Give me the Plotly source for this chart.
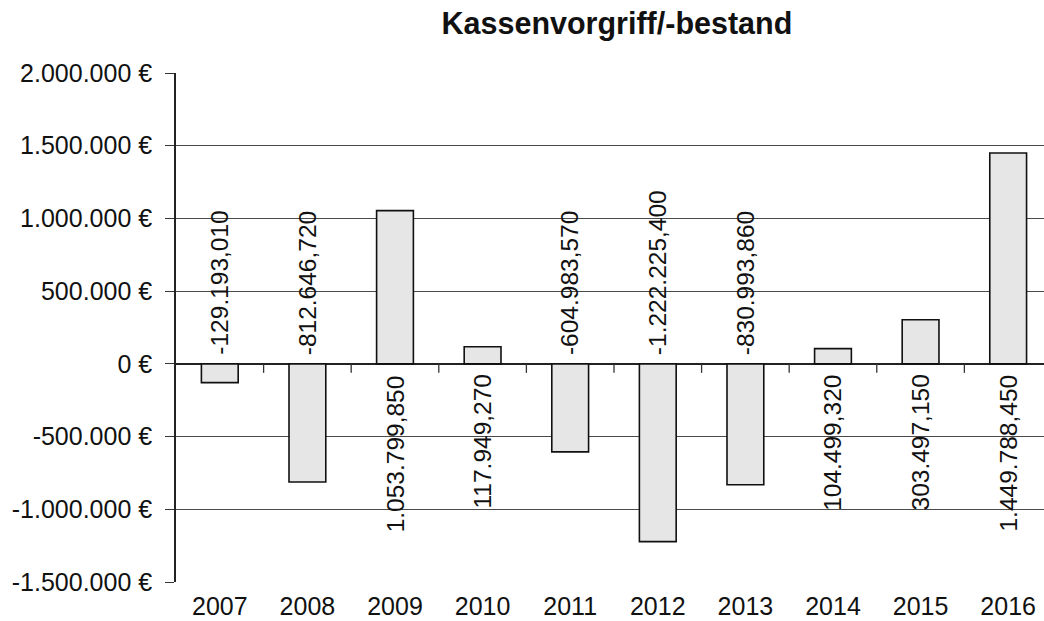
import plotly.graph_objects as go

years = [2007, 2008, 2009, 2010, 2011, 2012, 2013, 2014, 2015, 2016]
values = [-129193.01, -812646.72, 1053799.85, 117949.27, -604983.57,
          -1222225.40, -830993.86, 104499.32, 303497.15, 1449788.45]
ytick_vals = [2000000, 1500000, 1000000, 500000, 0, -500000, -1000000, -1500000]
ytick_text = ["2.000.000 €", "1.500.000 €", "1.000.000 €", "500.000 €", "0 €",
              "-500.000 €", "-1.000.000 €", "-1.500.000 €"]
title = "Kassenvorgriff/-bestand"


def de_fmt(v):
    s = f"{v:,.3f}"
    return s.replace(",", "X").replace(".", ",").replace("X", ".")


FONT = "Arial, Liberation Sans, sans-serif"

fig = go.Figure()
fig.add_trace(go.Bar(
    x=years, y=values,
    marker=dict(color="#e6e6e6", line=dict(color="#111111", width=1.6)),
    width=0.42, showlegend=False, hoverinfo="x+y",
))

annotations = []
for yr, v in zip(years, values):
    annotations.append(dict(
        x=yr, y=0, xref="x", yref="y",
        text=de_fmt(v), textangle=-90, showarrow=False,
        yanchor="bottom" if v < 0 else "top",
        yshift=7 if v < 0 else -9,
        font=dict(family=FONT, size=24.5, color="#111111"),
    ))

shapes = []
for i in range(len(years) - 1):
    xm = (years[i] + years[i + 1]) / 2
    shapes.append(dict(
        type="line", xref="x", yref="y", ysizemode="pixel", yanchor=0,
        x0=xm, x1=xm, y0=0, y1=-9,
        line=dict(color="#333333", width=1.3),
    ))

fig.update_layout(
    width=1044, height=621,
    margin=dict(l=176, r=0, t=73, b=39),
    paper_bgcolor="white", plot_bgcolor="white",
    title=dict(text="<b>" + title + "</b>", x=0.508, xanchor="center",
               xref="paper", yref="container",
               y=1 - 23 / 621, yanchor="middle",
               font=dict(family=FONT, size=30.5, color="#111111")),
    font=dict(family=FONT, size=25, color="#111111"),
    annotations=annotations, shapes=shapes,
)
fig.update_xaxes(
    tickvals=years, ticktext=[str(y) for y in years],
    range=[2006.5, 2016.409], showgrid=False, zeroline=False,
    showline=False, ticks="", ticklabelstandoff=7,
    tickfont=dict(family=FONT, size=25, color="#111111"),
)
fig.update_yaxes(
    range=[-1500000, 2000000], tickvals=ytick_vals, ticktext=ytick_text,
    showgrid=True, gridcolor="#4a4a4a", gridwidth=1.3,
    zeroline=True, zerolinecolor="#222222", zerolinewidth=1.6,
    showline=True, linecolor="#222222", linewidth=1.6,
    ticks="outside", ticklen=9, tickcolor="#333333", tickwidth=1.3,
    ticklabelstandoff=8,
    tickfont=dict(family=FONT, size=25, color="#111111"),
)

fig.write_html("out.html", config={"displayModeBar": False},
               post_script="document.body.style.margin='0';")
